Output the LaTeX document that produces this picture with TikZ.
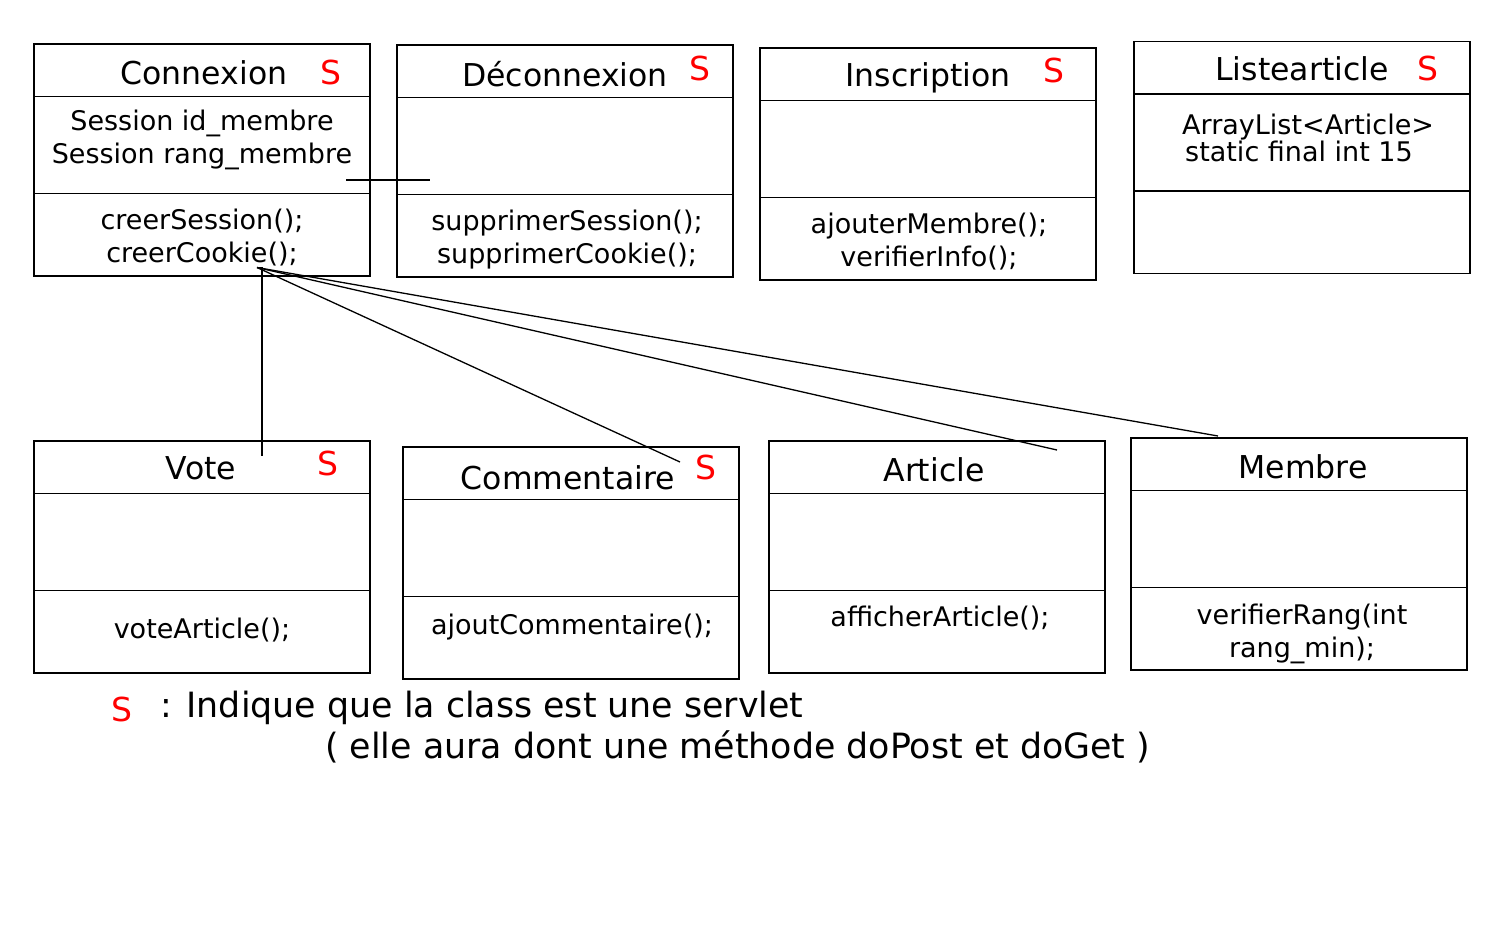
\documentclass[tikz,border=0pt]{standalone}
\usepackage{fontspec}
\setmainfont{DejaVu Sans}
\usetikzlibrary{positioning}
\tikzset{classbox/.style={draw, line width=1.6pt, inner sep=0pt,
                          minimum width=336pt, minimum height=232pt},
         divider/.style={line width=1.5pt},
         title/.style={anchor=base, inner sep=0pt, font=\fontsize{31.5}{36}\selectfont},
         member/.style={align=center, inner sep=0pt, font=\fontsize{27}{33}\selectfont},
         servlet/.style={anchor=base, inner sep=0pt, text=red, font=\fontsize{33}{36}\selectfont},
         legend/.style={anchor=base west, inner sep=0pt, font=\fontsize{34.8}{40}\selectfont},
         link/.style={line width=1.3pt}
}

\begin{document}
\begin{tikzpicture}[x=1pt, y=-1pt]
       \useasboundingbox (0,0) rectangle (1500,938);
       % boxes of the classes
       \node[classbox] (con) at (202,160)    {};
       \node[classbox] (dec) at (565,161)    {};
       \node[classbox] (ins) at (928,164)    {};
       \node[classbox] (lst) at (1302,157.5) {};
       \node[classbox] (vot) at (202,557)    {};
       \node[classbox] (com) at (571,563)    {};
       \node[classbox] (art) at (937,557)    {};
       \node[classbox] (mem) at (1299,554)   {};
       \foreach \b in {con,dec,ins,lst,vot,com,art,mem} {
         \draw[divider] ([yshift=-53.5pt]\b.north west) -- ([yshift=-53.5pt]\b.north east);
         \draw[divider] ([yshift=-150.5pt]\b.north west) -- ([yshift=-150.5pt]\b.north east);
       }
       % names
       \node[title] (conT) at (204,84)  {Connexion};
       \node[title] (decT) at (565,86)  {Déconnexion};
       \node[title] (insT) at (928,86)  {Inscription};
       \node[title] (lstT) at (1302,80) {Listearticle};
       \node[title] (votT) at (201,479) {Vote};
       \node[title] (comT) at (568,489) {Commentaire};
       \node[title] (artT) at (934,481) {Article};
       \node[title] (memT) at (1303,478){Membre};
       % servlet marks
       \node[servlet] (conS) at (331,84)  {S};
       \node[servlet] (decS) at (700,80)  {S};
       \node[servlet] (insS) at (1054,82) {S};
       \node[servlet] (lstS) at (1428,80) {S};
       \node[servlet] (votS) at (328,475) {S};
       \node[servlet] (comS) at (706,479) {S};
       % attributes and methods
       \node[member] (conA) at (202,139.5) {Session id\_membre\\Session rang\_membre};
       \node[member] (conM) at (202,237.5) {creerSession();\\creerCookie();};
       \node[member] (decM) at (567,239.5) {supprimerSession();\\supprimerCookie();};
       \node[member] (insM) at (929,241.5) {ajouterMembre();\\verifierInfo();};
       \node[member, anchor=base west] (lstA) at (1182,134) {ArrayList<Article>};
       \node[member, anchor=base west] (lstB) at (1185,161) {static final int 15};
       \node[member, anchor=base] (votM) at (202,638) {voteArticle();};
       \node[member, anchor=base] (comM) at (572,634) {ajoutCommentaire();};
       \node[member, anchor=base] (artM) at (940,626) {afficherArticle();};
       \node[member] (memM) at (1302,633.5) {verifierRang(int\\rang\_min);};
       % links
       \coordinate (src) at (257,267.5);
       \coordinate (srcv) at (262,267.5);
       \coordinate (votE) at (262,456);
       \coordinate (comE) at (680,462);
       \coordinate (artE) at (1057,450);
       \coordinate (memE) at (1218,436);
       \coordinate (hA) at (346,180);
       \coordinate (hB) at (430,180);
       \draw[link] (src) -- (srcv) -- (votE);
       \draw[link] (src) -- (comE);
       \draw[link] (src) -- (artE);
       \draw[link] (src) -- (memE);
       \draw[link] (hA) -- (hB);
       % legend
       \node[servlet] (legS) at (122,721) {S};
       \node[legend] (legA) at (160,717) {: Indique que la class est une servlet};
       \node[legend] (legB) at (325,758) {( elle aura dont une méthode doPost et doGet )};
\end{tikzpicture}
\end{document}
